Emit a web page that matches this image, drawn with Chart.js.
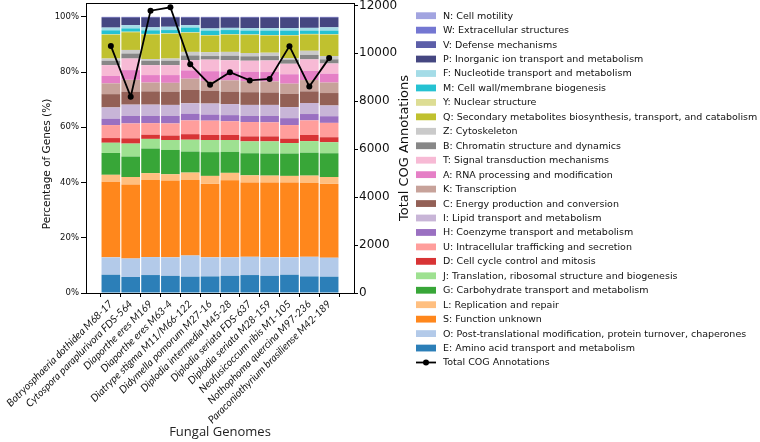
<!DOCTYPE html>
<html><head><meta charset="utf-8">
<script src="https://cdn.jsdelivr.net/npm/chart.js@4.4.1/dist/chart.umd.min.js"></script>
<style>html,body{margin:0;padding:0;background:#fff;}#wrap{width:760px;height:442px;}</style>
</head><body><div id="wrap"><canvas id="c" width="760" height="442"></canvas></div>
<script>
// ---------- DATA ----------
const genomes = [
  'Botryosphaeria dothidea M68-17','Cytospora paraplurivora FDS-564','Diaporthe eres M169',
  'Diaporthe eres M63-4','Diatrype stigma M11/M66-122','Didymella pomorum M27-16',
  'Diplodia intermedia M45-28','Diplodia seriata FDS-637','Diplodia seriata M28-159',
  'Neofusicoccum ribis M1-105','Nothophoma quercina M97-236','Paraconiothyrium brasiliense M42-189'
];
// stacking order, bottom -> top
const cogCodes = ['E','O','S','L','G','J','D','U','H','I','C','K','A','T','B','Z','Q','Y','M','F','P','V','W','N'];
const cogNames = [
  'E: Amino acid transport and metabolism',
  'O: Post-translational modification, protein turnover, chaperones',
  'S: Function unknown',
  'L: Replication and repair',
  'G: Carbohydrate transport and metabolism',
  'J: Translation, ribosomal structure and biogenesis',
  'D: Cell cycle control and mitosis',
  'U: Intracellular trafficking and secretion',
  'H: Coenzyme transport and metabolism',
  'I: Lipid transport and metabolism',
  'C: Energy production and conversion',
  'K: Transcription',
  'A: RNA processing and modification',
  'T: Signal transduction mechanisms',
  'B: Chromatin structure and dynamics',
  'Z: Cytoskeleton',
  'Q: Secondary metabolites biosynthesis, transport, and catabolism',
  'Y: Nuclear structure',
  'M: Cell wall/membrane biogenesis',
  'F: Nucleotide transport and metabolism',
  'P: Inorganic ion transport and metabolism',
  'V: Defense mechanisms',
  'W: Extracellular structures',
  'N: Cell motility'
];
// percentage of genes per COG category (one value per genome)
const E = [6.6, 5.8, 6.5, 6.2, 5.9, 6.0, 6.2, 6.5, 6.2, 6.6, 6.0, 5.9];
const O = [6.3, 6.7, 6.5, 6.7, 7.7, 6.9, 6.7, 6.6, 6.7, 6.3, 7.1, 6.9];
const S = [27.4, 26.8, 27.9, 27.7, 27.3, 26.6, 27.9, 26.9, 27.1, 27.1, 26.7, 26.7];
const L = [2.5, 2.7, 2.5, 2.4, 2.7, 2.9, 2.7, 2.6, 2.5, 2.4, 2.7, 2.5];
const G = [7.9, 7.4, 8.9, 8.8, 7.6, 8.6, 7.6, 8.0, 8.0, 8.1, 8.3, 8.6];
const J = [3.7, 4.7, 3.5, 3.6, 4.3, 4.4, 4.3, 4.3, 4.4, 3.8, 4.2, 4.0];
const D = [1.7, 1.9, 1.5, 1.6, 2.0, 1.8, 1.8, 1.8, 1.8, 1.6, 2.2, 1.8];
const U = [4.7, 5.4, 4.2, 4.4, 5.0, 5.2, 5.0, 5.2, 5.1, 4.9, 5.3, 5.2];
const H = [2.3, 2.7, 2.6, 2.7, 2.4, 2.2, 2.2, 2.2, 2.3, 2.5, 2.3, 2.4];
const I = [4.1, 4.1, 4.1, 4.0, 3.8, 4.0, 4.0, 4.0, 4.0, 4.0, 4.0, 3.9];
const C = [4.8, 4.7, 4.8, 4.8, 4.8, 4.6, 4.5, 4.6, 4.5, 4.8, 4.2, 4.5];
const K = [3.9, 4.3, 3.2, 3.2, 4.1, 3.6, 4.1, 4.0, 4.0, 3.7, 4.1, 3.8];
const A = [2.7, 3.5, 2.7, 2.8, 3.0, 3.5, 3.2, 3.4, 3.4, 3.4, 3.3, 3.2];
const T = [3.9, 4.2, 3.6, 3.6, 3.7, 4.2, 4.1, 4.0, 4.2, 3.8, 4.2, 3.7];
const B = [1.6, 1.8, 1.6, 1.6, 1.7, 1.3, 1.6, 1.6, 1.6, 1.5, 1.6, 1.5];
const Z = [0.8, 1.3, 0.6, 0.8, 1.3, 1.4, 1.4, 1.2, 1.2, 0.5, 1.5, 1.2];
const Q = [8.6, 6.4, 8.9, 8.9, 6.9, 6.0, 6.2, 6.5, 6.2, 8.2, 5.9, 7.7];
const Y = [0.2, 0.2, 0.2, 0.2, 0.2, 0.2, 0.2, 0.2, 0.2, 0.2, 0.2, 0.2];
const M = [1.4, 1.2, 1.3, 1.2, 1.7, 1.6, 1.5, 1.4, 1.6, 1.6, 1.2, 1.3];
const F = [1.0, 1.2, 1.1, 1.2, 0.9, 0.8, 0.8, 0.9, 0.9, 0.9, 1.0, 1.2];
const P = [3.5, 2.6, 3.4, 3.2, 2.6, 3.8, 3.6, 3.7, 3.7, 3.7, 3.6, 3.4];
const V = [0.3, 0.3, 0.3, 0.3, 0.3, 0.3, 0.3, 0.3, 0.3, 0.3, 0.3, 0.3];
const W = [0.05, 0.05, 0.05, 0.05, 0.05, 0.05, 0.05, 0.05, 0.05, 0.05, 0.05, 0.05];
const N = [0.05, 0.05, 0.05, 0.05, 0.05, 0.05, 0.05, 0.05, 0.05, 0.05, 0.05, 0.05];
const totalCOG = [10310, 8190, 11780, 11920, 9540, 8690, 9210, 8870, 8930, 10300, 8620, 9800];
const pctTicks = [0, 20, 40, 60, 80, 100];
const totalTicks = [0, 2000, 4000, 6000, 8000, 10000, 12000];

// ---------- STYLE ----------
const cogSeries = {E,O,S,L,G,J,D,U,H,I,C,K,A,T,B,Z,Q,Y,M,F,P,V,W,N};
const cogColors = {
  E:'#1f77b4', O:'#aec7e8', S:'#ff7f0e', L:'#ffbb78', G:'#2ca02c', J:'#98df8a',
  D:'#d62728', U:'#ff9896', H:'#9467bd', I:'#c5b0d5', C:'#8c564b', K:'#c49c94',
  A:'#e377c2', T:'#f7b6d2', B:'#7f7f7f', Z:'#c7c7c7', Q:'#bcbd22', Y:'#dbdb8d',
  M:'#17becf', F:'#9edae5', P:'#393b79', V:'#5254a3', W:'#6b6ecf', N:'#9c9ede'
};
function fade(hex, a){
  const r=parseInt(hex.slice(1,3),16), g=parseInt(hex.slice(3,5),16), b=parseInt(hex.slice(5,7),16);
  return `rgba(${r},${g},${b},${a})`;
}
const ALPHA = 0.94;
const DV = '"DejaVu Sans", sans-serif';

const datasets = [{
  type: 'line',
  label: 'Total COG Annotations',
  data: totalCOG.map((v, i) => ({x: i, y: v})),
  yAxisID: 'y2', xAxisID: 'x',
  borderColor: '#000', backgroundColor: '#000',
  borderWidth: 1.8, pointRadius: 3, pointBackgroundColor: '#000', pointBorderWidth: 0,
  tension: 0, order: 0
}];
cogCodes.forEach((code, k) => {
  datasets.push({
    type: 'bar',
    label: cogNames[k],
    data: cogSeries[code].map((v, i) => ({x: i, y: v})),
    backgroundColor: fade(cogColors[code], ALPHA),
    borderWidth: 0,
    yAxisID: 'y', xAxisID: 'x',
    barPercentage: 0.94, categoryPercentage: 1.0,
    order: 1
  });
});

const CHART_TOP = 3, CHART_LEFT = 86, CHART_RIGHT = 354, CHART_BOTTOM = 293;
const PAD_LEFT = 35, PAD_RIGHT = 345;

const decor = {
  id: 'decor',
  afterDraw(chart) {
    const ctx = chart.ctx, a = chart.chartArea;
    ctx.save();
    ctx.strokeStyle = '#000'; ctx.lineWidth = 1;
    ctx.beginPath(); ctx.moveTo(a.left, a.top + 0.5); ctx.lineTo(a.right, a.top + 0.5); ctx.stroke();
    ctx.fillStyle = '#111';
    ctx.textAlign = 'center'; ctx.textBaseline = 'middle';
    ctx.save();
    ctx.font = '10.5px ' + DV;
    ctx.translate(47.5, 164); ctx.rotate(-Math.PI / 2);
    ctx.fillText('Percentage of Genes (%)', 0, 0);
    ctx.restore();
    ctx.save();
    ctx.font = '13px ' + DV;
    ctx.translate(405, (a.top + a.bottom) / 2); ctx.rotate(-Math.PI / 2);
    ctx.fillText('Total COG Annotations', 0, 0);
    ctx.restore();
    // legend
    const x0 = 416, y0 = 15.7, dy = 14.45;
    ctx.font = '9.5px ' + DV; ctx.textAlign = 'left';
    const rows = cogCodes.slice().reverse();
    rows.forEach((code, i) => {
      const y = y0 + i * dy;
      ctx.fillStyle = fade(cogColors[code], ALPHA);
      ctx.fillRect(x0, y - 3.4, 20, 6.8);
      ctx.fillStyle = '#111';
      ctx.fillText(cogNames[cogCodes.indexOf(code)], 443, y + 0.5);
    });
    const yl = y0 + rows.length * dy;
    ctx.strokeStyle = '#000'; ctx.lineWidth = 1.8;
    ctx.beginPath(); ctx.moveTo(x0, yl); ctx.lineTo(x0 + 20, yl); ctx.stroke();
    ctx.fillStyle = '#000';
    ctx.beginPath(); ctx.arc(x0 + 10, yl, 3, 0, Math.PI * 2); ctx.fill();
    ctx.fillStyle = '#111';
    ctx.fillText('Total COG Annotations', 443, yl + 0.5);
    ctx.restore();
  }
};

new Chart(document.getElementById('c'), {
  data: { datasets },
  options: {
    responsive: false, animation: false, devicePixelRatio: 1,
    layout: { autoPadding: false, padding: { left: PAD_LEFT, right: PAD_RIGHT, top: CHART_TOP, bottom: 0 } },
    plugins: { legend: { display: false }, tooltip: { enabled: false } },
    scales: {
      x: {
        type: 'linear', position: 'bottom', stacked: true,
        min: -0.69, max: 11.69,
        afterBuildTicks: s => { s.ticks = genomes.map((_, i) => ({ value: i })); },
        afterFit: s => { s.height = 442 - CHART_BOTTOM; s.paddingLeft = 0; s.paddingRight = 0; },
        ticks: {
          autoSkip: false, minRotation: 45, maxRotation: 45, padding: 1,
          color: '#111', font: { family: 'Lato', style: 'italic', size: 10.4 },
          callback: v => genomes[v]
        },
        grid: { display: true, drawOnChartArea: false, drawTicks: true, tickLength: 4, color: '#000' },
        border: { display: true, color: '#000', width: 1 },
        title: { display: true, text: 'Fungal Genomes', color: '#222',
          font: { family: '"Open Sans"', size: 13 }, padding: { top: 0, bottom: 2 } }
      },
      y: {
        type: 'linear', position: 'left', stacked: true, min: 0, max: 105,
        afterBuildTicks: s => { s.ticks = pctTicks.map(v => ({ value: v })); },
        afterFit: s => { s.width = CHART_LEFT - PAD_LEFT; s.paddingTop = 0; s.paddingBottom = 0; },
        ticks: { padding: 2, color: '#111', font: { family: DV, size: 8.5 }, callback: v => v + '%' },
        grid: { display: true, drawOnChartArea: false, drawTicks: true, tickLength: 5, color: '#000' },
        border: { display: true, color: '#000', width: 1 }
      },
      y2: {
        type: 'linear', position: 'right', stacked: false, min: 0, max: 12100,
        afterBuildTicks: s => { s.ticks = totalTicks.map(v => ({ value: v })); },
        afterFit: s => { s.width = 760 - PAD_RIGHT - CHART_RIGHT; s.paddingTop = 0; s.paddingBottom = 0; },
        ticks: { padding: 1, color: '#111', font: { family: DV, size: 12 }, callback: v => String(v) },
        grid: { display: true, drawOnChartArea: false, drawTicks: true, tickLength: 4, color: '#000' },
        border: { display: true, color: '#000', width: 1 }
      }
    }
  },
  plugins: [decor]
});
</script>
</body></html>
